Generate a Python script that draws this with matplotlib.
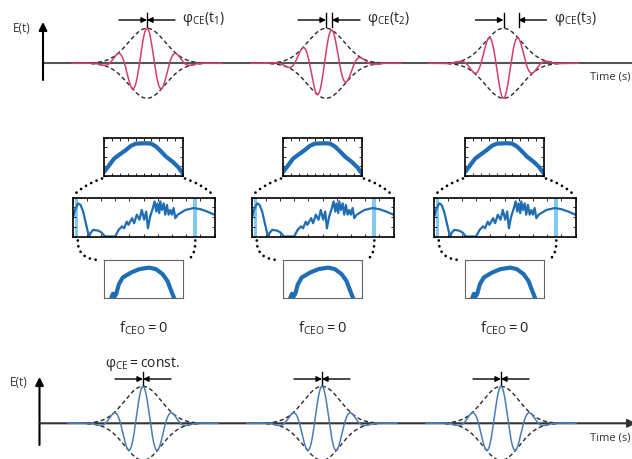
import numpy as np
import matplotlib.pyplot as plt

plt.rcParams['font.family'] = ['Open Sans', 'DejaVu Sans']

# pulse trains (sketch pixel units)
top_centers = [147, 326, 503.5]
top_crest_shift = [0, 6, 15]          # carrier crest offset from envelope peak
top_labels = [r'$\mathregular{φ_{CE}(t_1)}$', r'$\mathregular{φ_{CE}(t_2)}$',
              r'$\mathregular{φ_{CE}(t_3)}$']
bottom_centers = [143, 322, 501]
period = 30
pulse_width = 18.3

# spectra (normalised)
top_spec_x = [0, .064, .128, .191, .277, .340, .404, .532, .596, .660, .723, .787, .872, .936, 1.0]
top_spec_y = [.09, .27, .45, .55, .68, .79, .85, .86, .85, .77, .64, .50, .36, .23, .05]

mid_spec_x = [0, .017, .04, .057, .075, .094, .11, .118, .127, .146, .182, .205, .229, .300,
              .325, .349, .363, .382, .394, .420, .434, .453, .472, .488, .505, .519, .531,
              .547, .566, .578, .590, .599, .611, .618, .630, .642, .653, .665, .677, .689,
              .700, .712, .724, .741, .759, .795, .854, .901, .948, 1.0]
mid_spec_y = [.43, .68, .85, .81, .64, .34, .09, 0, .09, .17, .15, .10, 0, 0,
              .17, .26, .21, .38, .30, .47, .34, .56, .43, .68, .43, .64, .21,
              .51, .73, .90, .64, .85, .60, .90, .68, .85, .56, .81, .56, .68,
              .56, .73, .47, .56, .60, .68, .73, .70, .64, .56]
mid_bands = [(.015, .04), (.85, .88)]

bot_spec_x = [.092, .113, .134, .155, .188, .238, .343, .448, .573, .657, .741, .803, .845, .887]
bot_spec_y = [0, .11, .04, .11, .36, .54, .67, .76, .80, .76, .63, .45, .22, 0]

col_centers = [143.5, 322.5, 504.5]
fceo_label = r'$\mathregular{f_{CEO} = 0}$'

W, H = 632, 459
fig = plt.figure(figsize=(W / 100, H / 100), dpi=100)
ax = fig.add_axes([0, 0, 1, 1])
ax.set_xlim(0, W)
ax.set_ylim(H, 0)
ax.axis('off')

red = '#d43f6a'
blue = '#4a7db8'
spec_blue = '#1f6db5'


def pulse(c, base, amp, shift, color):
    x = np.linspace(c - 75, c + 75, 600)
    env = amp * np.exp(-(x - c) ** 2 / (2 * pulse_width ** 2))
    phi = -2 * np.pi * shift / period
    ax.plot(x, base - env * np.cos(2 * np.pi * (x - c) / period + phi), color=color, lw=1.1, zorder=4)
    xe = np.linspace(c - 56, c + 56, 200)
    ee = amp * np.exp(-(xe - c) ** 2 / (2 * pulse_width ** 2))
    ax.plot(xe, base - ee, color='#2a2a2a', lw=1.0, ls=(0, (3, 2)), zorder=3)
    ax.plot(xe, base + ee, color='#2a2a2a', lw=1.0, ls=(0, (3, 2)), zorder=3)


def phase_marker(a, b, y, L=28):
    ax.annotate('', xy=(a, y), xytext=(a - L, y),
                arrowprops=dict(arrowstyle='-|>', color='k', lw=1, mutation_scale=8, shrinkA=0, shrinkB=0))
    ax.annotate('', xy=(b, y), xytext=(b + L, y),
                arrowprops=dict(arrowstyle='-|>', color='k', lw=1, mutation_scale=8, shrinkA=0, shrinkB=0))
    ax.plot([a, a], [y - 7, y + 7], color='k', lw=1)
    if b != a:
        ax.plot([b, b], [y - 7, y + 7], color='k', lw=1)


def axes_frame(y0, x_axis, base, bottom, arrow_right):
    ax.annotate('', xy=(x_axis, y0), xytext=(x_axis, bottom),
                arrowprops=dict(arrowstyle='-|>', color='k', lw=1.5, mutation_scale=12, shrinkA=0, shrinkB=0))
    if arrow_right:
        ax.annotate('', xy=(W + 4, base), xytext=(x_axis, base), annotation_clip=False,
                    arrowprops=dict(arrowstyle='-|>', color='#333333', lw=1.5, mutation_scale=12,
                                    shrinkA=0, shrinkB=0))
    else:
        ax.plot([x_axis, W], [base, base], color='#555555', lw=1.5, zorder=2)


# top panel
axes_frame(22, 43, 63.3, 80, False)
ax.text(22, 29, 'E(t)', fontsize=8.5, ha='center', va='center', color='#333333')
ax.text(631, 77, 'Time (s)', fontsize=8, ha='right', va='center', color='#333333')
for c, s, lab in zip(top_centers, top_crest_shift, top_labels):
    pulse(c, 63.3, 35, s, red)
    phase_marker(c, c + s, 20)
    ax.text(c + s + 35, 19, lab, fontsize=10, ha='left', va='center', color='#222222')

# bottom panel
axes_frame(377, 39.5, 423.3, 445, True)
ax.text(19, 383, 'E(t)', fontsize=8.5, ha='center', va='center', color='#333333')
ax.text(631, 438, 'Time (s)', fontsize=8, ha='right', va='center', color='#333333')
for c in bottom_centers:
    pulse(c, 423.3, 37, 0, blue)
    phase_marker(c, c, 379)
ax.text(bottom_centers[0], 364, r'$\mathregular{φ_{CE} = const.}$', fontsize=10, ha='center',
        va='center', color='#222222')


def inset(x0, y0, x1, y1):
    a = fig.add_axes([x0 / W, 1 - y1 / H, (x1 - x0) / W, (y1 - y0) / H])
    a.set_xlim(0, 1)
    a.set_ylim(0, 1)
    a.set_xticks(np.linspace(0, 1, 11))
    a.set_yticks(np.linspace(0, 1, 5))
    a.tick_params(direction='in', top=True, right=True, length=2, width=0.6,
                  labelbottom=False, labelleft=False)
    return a


def dots(p0, pc, p2):
    t = np.linspace(0, 1, 60)
    xs = (1 - t) ** 2 * p0[0] + 2 * (1 - t) * t * pc[0] + t ** 2 * p2[0]
    ys = (1 - t) ** 2 * p0[1] + 2 * (1 - t) * t * pc[1] + t ** 2 * p2[1]
    ax.plot(xs, ys, color='k', lw=2.0, ls=(0, (0.01, 2.1)), dash_capstyle='round')


for c in col_centers:
    tb = (c - 39.5, 138, c + 39.5, 175.5)
    mb = (c - 71, 197.5, c + 71, 236.5)
    bb = (c - 39.5, 260, c + 39.5, 298)

    a1 = inset(*tb)
    a1.plot(top_spec_x, top_spec_y, color=spec_blue, lw=3.0, solid_capstyle='round')
    for sp in a1.spines.values():
        sp.set_linewidth(1.2)

    a2 = inset(*mb)
    for lo, hi in mid_bands:
        a2.axvspan(lo, hi, color='#6cc0ea', alpha=0.85, lw=0)
    a2.plot(mid_spec_x, mid_spec_y, color=spec_blue, lw=1.6)
    for sp in a2.spines.values():
        sp.set_linewidth(1.2)

    a3 = inset(*bb)
    a3.plot(bot_spec_x, bot_spec_y, color=spec_blue, lw=3.0)
    a3.tick_params(length=0)
    for sp in a3.spines.values():
        sp.set_linewidth(0.8)
        sp.set_color('#666666')

    # magnifier dotted connectors
    dots((tb[0] - 2, tb[3] + 3), (mb[0] + 10, tb[3] + 10), (mb[0], mb[1] - 1))
    dots((tb[2] + 2, tb[3] + 3), (mb[2] - 10, tb[3] + 10), (mb[2], mb[1] - 1))
    left_band = mb[0] + (mb[2] - mb[0]) * 0.03
    right_band = mb[0] + (mb[2] - mb[0]) * 0.865
    dots((left_band + 1, mb[3] + 4), (left_band + 1, bb[1]), (bb[0] - 3, bb[1]))
    dots((right_band, mb[3] + 4), (right_band, bb[1] - 2), (bb[2] + 3, bb[1]))

    ax.text(c, 328, fceo_label, fontsize=10.5, ha='center', va='center', color='#222222')

fig.savefig('out.png', dpi=100)
